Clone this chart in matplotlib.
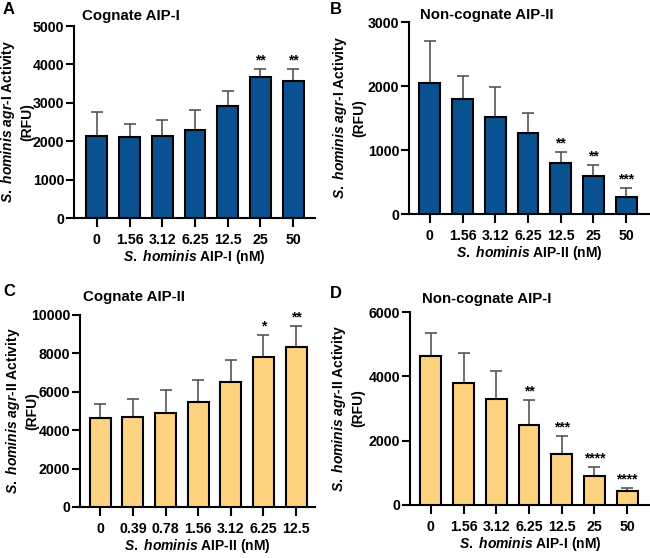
import matplotlib
matplotlib.use("Agg")
import matplotlib.pyplot as plt
import numpy as np

plt.rcParams['font.family'] = ['Liberation Sans', 'DejaVu Sans']
plt.rcParams['font.weight'] = 'bold'
plt.rcParams['mathtext.fontset'] = 'custom'
plt.rcParams['mathtext.rm'] = 'Liberation Sans:bold'
plt.rcParams['mathtext.it'] = 'Liberation Sans:italic:bold'
plt.rcParams['mathtext.bf'] = 'Liberation Sans:bold'

# ---- data ----
conc_I = ["0", "1.56", "3.12", "6.25", "12.5", "25", "50"]
conc_II = ["0", "0.39", "0.78", "1.56", "3.12", "6.25", "12.5"]

a_mean = [2130, 2120, 2140, 2300, 2920, 3660, 3570]
a_err = [640, 320, 410, 510, 380, 220, 310]
a_sig = ["", "", "", "", "", "**", "**"]

b_mean = [2040, 1800, 1510, 1260, 800, 600, 260]
b_err = [660, 360, 480, 320, 170, 170, 140]
b_sig = ["", "", "", "", "**", "**", "***"]

c_mean = [4620, 4700, 4900, 5460, 6500, 7800, 8320]
c_err = [740, 940, 1180, 1180, 1150, 1180, 1100]
c_sig = ["", "", "", "", "", "*", "**"]

d_mean = [4630, 3800, 3310, 2500, 1600, 910, 420]
d_err = [730, 940, 860, 750, 550, 280, 120]
d_sig = ["", "", "", "**", "***", "****", "****"]

blue = "#0a5192"
yellow = "#fed37f"

fig = plt.figure(figsize=(6.5, 5.58), dpi=100)

panels = [
    dict(rect=[74/650, 1-218/558, 241/650, 192/558], mean=a_mean, err=a_err, sig=a_sig,
         cats=conc_I, color=blue, ymax=5000, step=1000, xl=(-0.70, 6.67), ylx=-0.237,
         ylab="$\\mathit{S.\\ hominis\\ agr}$-I Activity\n(RFU)",
         xlab="$\\mathit{S.\\ hominis}$ AIP-I (nM)", title="Cognate AIP-I",
         tpos=(82, 16), letter="A", lpos=(3, 10)),
    dict(rect=[409/650, 1-214/558, 241/650, 192/558], mean=b_mean, err=b_err, sig=b_sig,
         cats=conc_I, color=blue, ymax=3000, step=1000, xl=(-0.64, 6.73), ylx=-0.249,
         ylab="$\\mathit{S.\\ hominis\\ agr}$-I Activity\n(RFU)",
         xlab="$\\mathit{S.\\ hominis}$ AIP-II (nM)", title="Non-cognate AIP-II",
         tpos=(420, 15), letter="B", lpos=(330, 9)),
    dict(rect=[80/650, 1-507/558, 235/650, 192/558], mean=c_mean, err=c_err, sig=c_sig,
         cats=conc_II, color=yellow, ymax=10000, step=2000, xl=(-0.62, 6.58), ylx=-0.247,
         ylab="$\\mathit{S.\\ hominis\\ agr}$-II Activity\n(RFU)",
         xlab="$\\mathit{S.\\ hominis}$ AIP-II (nM)", title="Cognate AIP-II",
         tpos=(83, 297), letter="C", lpos=(3, 291)),
    dict(rect=[410/650, 1-505/558, 240/650, 193/558], mean=d_mean, err=d_err, sig=d_sig,
         cats=conc_I, color=yellow, ymax=6000, step=2000, xl=(-0.64, 6.70), ylx=-0.258,
         ylab="$\\mathit{S.\\ hominis\\ agr}$-II Activity\n(RFU)",
         xlab="$\\mathit{S.\\ hominis}$ AIP-I (nM)", title="Non-cognate AIP-I",
         tpos=(422, 299), letter="D", lpos=(330, 293)),
]

for p in panels:
    ax = fig.add_axes(p['rect'])
    x = np.arange(len(p['cats']))
    ax.bar(x, p['mean'], width=0.64, color=p['color'], edgecolor='black', linewidth=1.5, zorder=3)
    ax.errorbar(x, p['mean'], yerr=[np.zeros(len(x)), p['err']], fmt='none',
                ecolor='#555555', elinewidth=1.2, capsize=4, capthick=1.2, zorder=2)
    for xi, m, e, s in zip(x, p['mean'], p['err'], p['sig']):
        if s:
            ax.text(xi, m + e + p['ymax']*0.008, s, ha='center', va='bottom', fontsize=10,
                    fontweight='bold')
    ax.set_xlim(*p['xl'])
    ax.set_ylim(0, p['ymax'])
    ax.set_yticks(np.arange(0, p['ymax'] + 1, p['step']))
    ax.set_xticks(x)
    ax.set_xticklabels(p['cats'])
    for sp in ['top', 'right']:
        ax.spines[sp].set_visible(False)
    for sp in ['left', 'bottom']:
        ax.spines[sp].set_linewidth(1.5)
    ax.tick_params(axis='y', direction='out', length=5.5, width=1.5, labelsize=10.2, pad=1.5)
    ax.tick_params(axis='x', direction='out', length=6.5, width=1.5, labelsize=10.2, pad=4)
    for lab in ax.get_xticklabels() + ax.get_yticklabels():
        lab.set_fontweight('bold')
    ax.set_ylabel(p['ylab'], fontsize=10, fontweight='bold', multialignment='center',
                  va='center', linespacing=1.3)
    ax.yaxis.set_label_coords(p['ylx'], 0.5)
    ax.set_xlabel(p['xlab'], fontsize=10, fontweight='bold', labelpad=1)
    fig.text(p['tpos'][0]/650, 1 - p['tpos'][1]/558, p['title'], fontsize=10.8,
             fontweight='bold', ha='left', va='center')
    fig.text(p['lpos'][0]/650, 1 - p['lpos'][1]/558, p['letter'], fontsize=12,
             fontweight='bold', ha='left', va='center')

fig.savefig("out.png", dpi=100)
